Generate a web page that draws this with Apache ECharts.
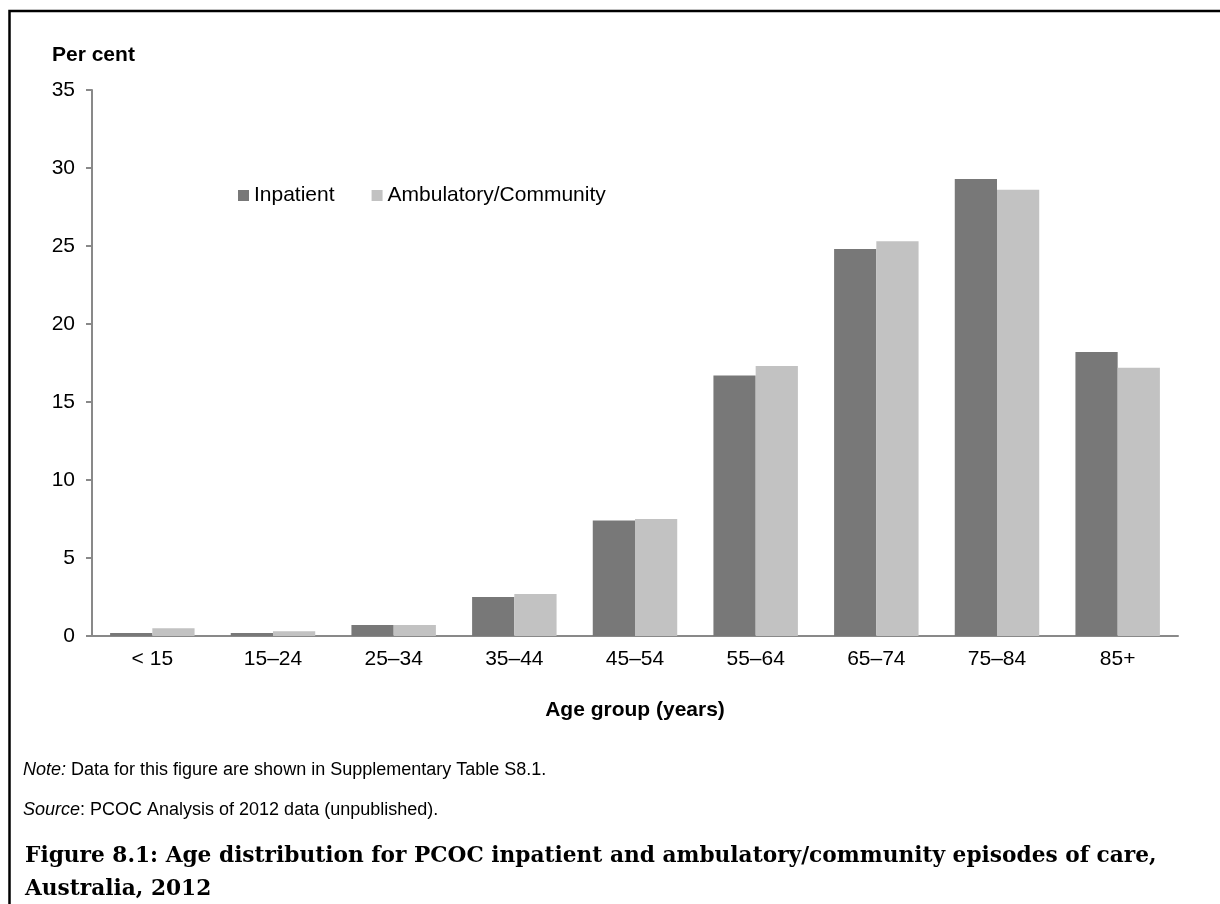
<!DOCTYPE html>
<html>
<head>
<meta charset="utf-8">
<script src="https://cdn.jsdelivr.net/npm/echarts@6/dist/echarts.min.js"></script>
<style>
html,body{margin:0;padding:0;background:#fff;}
#chart{width:1220px;height:904px;}
</style>
</head>
<body>
<div id="chart"></div>
<script>
var categories = ['< 15', '15\u201324', '25\u201334', '35\u201344', '45\u201354', '55\u201364', '65\u201374', '75\u201384', '85+'];
var inpatient = [0.2, 0.2, 0.7, 2.5, 7.4, 16.7, 24.8, 29.3, 18.2];
var ambulatory = [0.5, 0.3, 0.7, 2.7, 7.5, 17.3, 25.3, 28.6, 17.2];
var seriesNames = ['Inpatient', 'Ambulatory/Community'];
var yTicks = [0, 5, 10, 15, 20, 25, 30, 35];

var sans = 'Liberation Sans, Arial, sans-serif';
var serif = 'DejaVu Serif, Liberation Serif, serif';

var chart = echarts.init(document.getElementById('chart'), null, {renderer: 'canvas'});
chart.setOption({
  backgroundColor: '#fff',
  animation: false,
  grid: {left: 92, right: 42, top: 90, bottom: 268, containLabel: false},
  legend: {
    data: seriesNames,
    left: 233, top: 180,
    itemWidth: 11, itemHeight: 11,
    itemGap: 37,
    icon: 'rect',
    textStyle: {fontFamily: sans, fontSize: 21, color: '#000', padding: [0,0,0,0]}
  },
  xAxis: {
    type: 'category',
    data: categories,
    axisLine: {lineStyle: {color: '#898989', width: 2}},
    axisTick: {show: false},
    axisLabel: {fontFamily: sans, fontSize: 21, color: '#000', margin: 13},
    name: 'Age group (years)',
    nameLocation: 'middle',
    nameGap: 64,
    nameTextStyle: {fontFamily: sans, fontSize: 21, fontWeight: 'bold', color: '#000'}
  },
  yAxis: {
    type: 'value',
    min: 0, max: 35, interval: 5,
    axisLine: {show: true, lineStyle: {color: '#898989', width: 2}},
    axisTick: {show: true, length: 6, lineStyle: {color: '#898989', width: 2}},
    splitLine: {show: false},
    axisLabel: {fontFamily: sans, fontSize: 21, color: '#000', margin: 17,
      formatter: function (v) { return yTicks.indexOf(v) >= 0 ? String(v) : ''; }}
  },
  series: [
    {name: seriesNames[0], type: 'bar', data: inpatient, barGap: '0%', barCategoryGap: '30%',
     itemStyle: {color: '#787878'}},
    {name: seriesNames[1], type: 'bar', data: ambulatory, barGap: '0%', barCategoryGap: '30%',
     itemStyle: {color: '#c2c2c2'}}
  ],
  graphic: [
    {type: 'rect', shape: {x: 9.5, y: 11, width: 1240, height: 920}, style: {fill: 'none', stroke: '#000', lineWidth: 2.5}, silent: true},
    {type: 'text', x: 52, y: 55, style: {fontFamily: sans, fontSize: 21, fontWeight: 'bold', fill: '#000', text: 'Per cent', verticalAlign: 'middle'}},
    {type: 'text', x: 23, y: 770, style: {verticalAlign: 'middle', rich: {i: {fontFamily: sans, fontSize: 18, fontStyle: 'italic', fill: '#000'}, n: {fontFamily: sans, fontSize: 18, fill: '#000'}}, text: '{i|Note:}{n| Data for this figure are shown in Supplementary Table S8.1.}'}},
    {type: 'text', x: 23, y: 810, style: {verticalAlign: 'middle', rich: {i: {fontFamily: sans, fontSize: 18, fontStyle: 'italic', fill: '#000'}, n: {fontFamily: sans, fontSize: 18, fill: '#000'}}, text: '{i|Source}{n|: PCOC Analysis of 2012 data (unpublished).}'}},
    {type: 'text', x: 25, y: 856, style: {verticalAlign: 'middle', fontFamily: serif, fontSize: 21.7, fontWeight: 'bold', fill: '#000', text: 'Figure 8.1: Age distribution for PCOC inpatient and ambulatory/community episodes of care,'}},
    {type: 'text', x: 25, y: 889, style: {verticalAlign: 'middle', fontFamily: serif, fontSize: 21.7, fontWeight: 'bold', fill: '#000', text: 'Australia, 2012'}}
  ]
});
</script>
</body>
</html>
